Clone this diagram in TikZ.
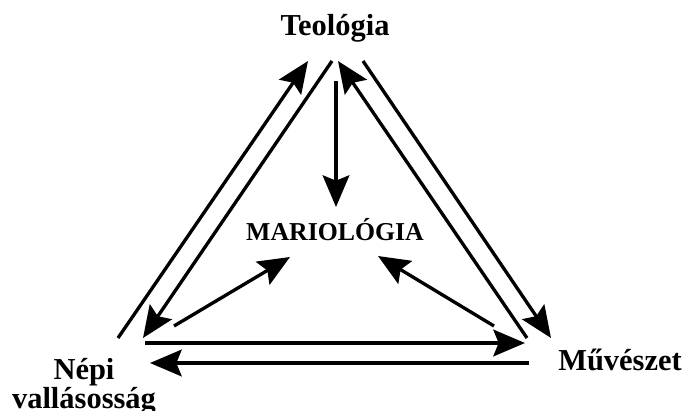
\documentclass[tikz,border=0pt]{standalone}
\usepackage{fontspec}
\setmainfont{Liberation Serif}
\usepackage{tikz}
\usetikzlibrary{arrows.meta}
\tikzset{lbl/.style={font=\bfseries\fontsize{26}{23}\selectfont,inner sep=0pt,anchor=base},
  arr/.style={line width=1mm,-{Stealth[length=9.5mm,width=8mm,inset=1.6mm]}}}

\begin{document}
\begin{tikzpicture}[x=0.03cm,y=-0.03cm]
\useasboundingbox (0,0) rectangle (686,410);
\node[lbl] (teo) at (335,35) {Teológia};
\node[lbl,font=\bfseries\fontsize{22}{22}\selectfont] (mar) at (335,240) {MARIOLÓGIA};
\node[lbl,align=center,anchor=north] (nep) at (84,358) {Népi\\vallásosság};
\node[lbl] (muv) at (620,370) {Művészet};
% end points of the arrows
\coordinate (nt1) at (118,338); \coordinate (tn1) at (308,61);
\coordinate (tn2) at (332,61); \coordinate (nt2) at (143,338);
\coordinate (mt1) at (527,338); \coordinate (tm1) at (338,61);
\coordinate (tm2) at (363,61); \coordinate (mt2) at (551,338);
\coordinate (nm1) at (145,343); \coordinate (mn1) at (525,343);
\coordinate (mn2) at (529,363); \coordinate (nm2) at (150,363);
\coordinate (tc) at (336,81); \coordinate (ct) at (336,207);
\coordinate (nc) at (174,326); \coordinate (cn) at (290,257);
\coordinate (mc) at (494,326); \coordinate (cm) at (378,256);
\draw[arr] (nt1) -- (tn1);
\draw[arr] (tn2) -- (nt2);
\draw[arr] (mt1) -- (tm1);
\draw[arr] (tm2) -- (mt2);
\draw[arr] (nm1) -- (mn1);
\draw[arr] (mn2) -- (nm2);
\draw[arr] (tc) -- (ct);
\draw[arr] (nc) -- (cn);
\draw[arr] (mc) -- (cm);
\end{tikzpicture}
\end{document}
